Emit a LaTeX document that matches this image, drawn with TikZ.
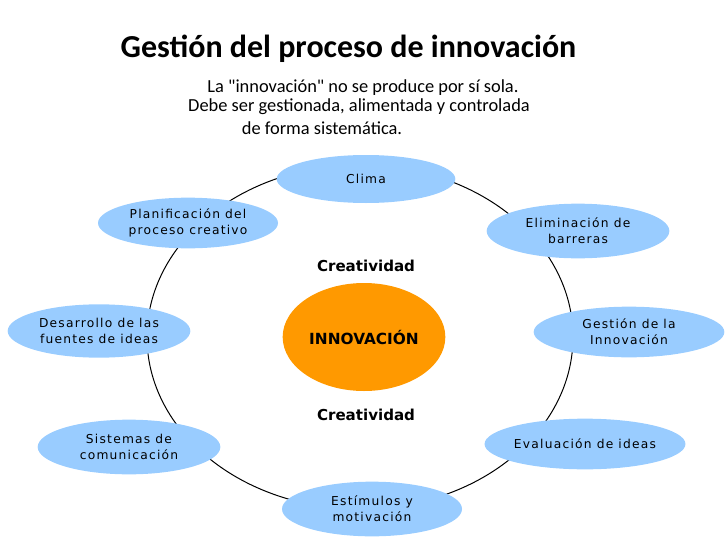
\documentclass[tikz,border=0pt]{standalone}
\usepackage{fontspec}
\setmainfont{Carlito}
\newfontfamily\calfont{Carlito}
\newfontfamily\verdfont{DejaVu Sans}[LetterSpace=10]
\newfontfamily\verdnegra{DejaVu Sans}
\usetikzlibrary{shapes.geometric}
\definecolor{cielo}{RGB}{153,204,255}
\definecolor{naranja}{RGB}{255,153,0}
\tikzset{
  etapa/.style={ellipse, fill=cielo, inner sep=0pt, align=center,
    minimum width=135pt, minimum height=38pt,
    font=\verdfont\fontsize{9.2}{12}\selectfont},
  creat/.style={font=\verdnegra\bfseries\fontsize{11.3}{13}\selectfont},
  lema/.style={font=\calfont\fontsize{13.8}{16}\selectfont}
}
\begin{document}
\begin{tikzpicture}[x=0.75pt,y=-0.75pt]
\useasboundingbox (0,0) rectangle (728,546);
% titulo
\node[anchor=west, font=\bfseries\fontsize{24}{28}\selectfont] (titulo) at (116,49) {Gestión del proceso de innovación};
\node[lema] (lema1) at (363,88) {La "innovación" no se produce por sí sola.};
\node[lema] (lema2) at (359,107) {Debe ser gestionada, alimentada y controlada};
\node[lema] (lema3) at (322,128) {de forma sistemática.};
% anillo
\draw[line width=0.75pt] (360,337) ellipse [x radius=159.75pt, y radius=129pt];
% centro
\node[ellipse, fill=naranja, inner sep=0pt, minimum width=122pt, minimum height=81pt,
  font=\verdnegra\bfseries\fontsize{11.5}{13}\selectfont] (innov) at (364,337) {INNOVACIÓN};
\node[creat] (creat1) at (366,266) {Creatividad};
\node[creat] (creat2) at (366,415) {Creatividad};
% etapas
\node[etapa, minimum width=134pt, minimum height=36pt] (clima) at (366,179) {Clima};
\node[etapa] (planif) at (188,223) {Planificación del\\proceso creativo};
\node[etapa, minimum width=137pt, minimum height=41pt] (elimin) at (578,231) {Eliminación de\\barreras};
\node[etapa, minimum width=137pt, minimum height=40pt] (desarr) at (99,331) {Desarrollo de las\\fuentes de ideas};
\node[etapa, minimum width=143pt] (gestion) at (629,332) {Gestión de la\\Innovación};
\node[etapa, minimum width=137pt, minimum height=41pt] (sistem) at (129,447) {Sistemas de\\comunicación};
\node[etapa, minimum width=146pt] (evalua) at (585,444) {Evaluación de ideas};
\node[etapa, minimum width=135pt, minimum height=41pt] (estim) at (372,509) {Estímulos y\\motivación};
\end{tikzpicture}
\end{document}
